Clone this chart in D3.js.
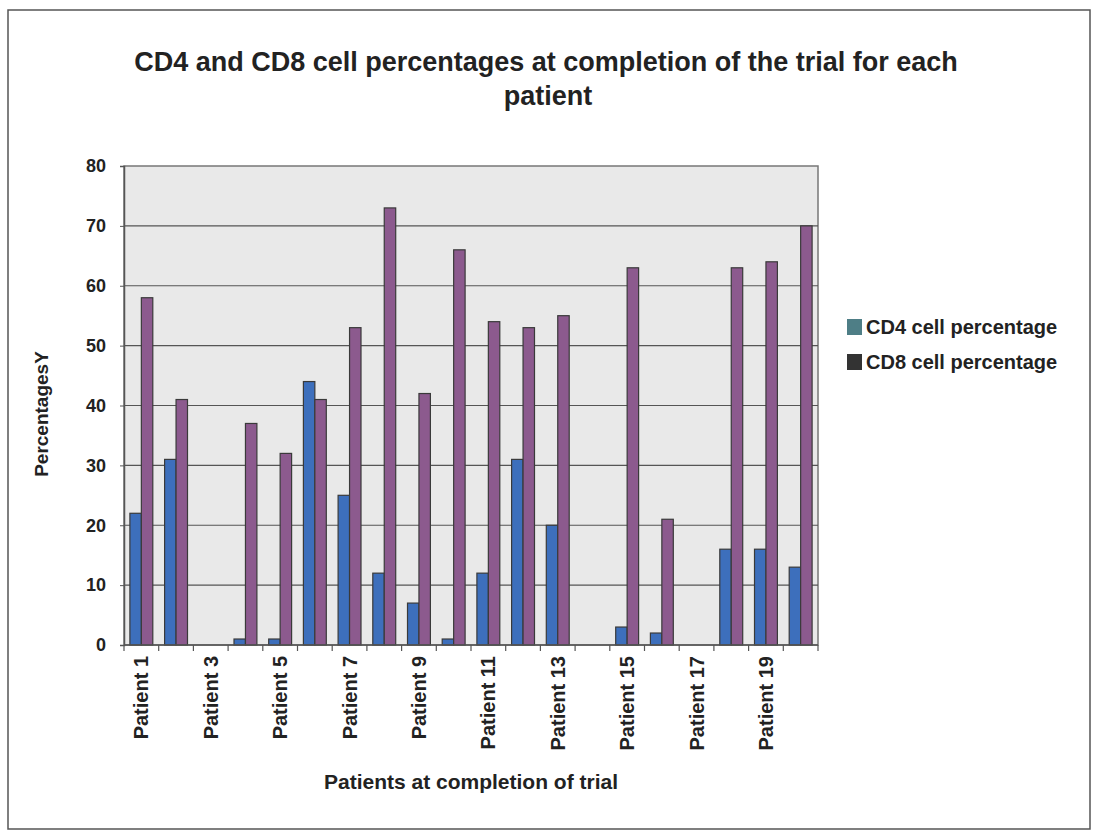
<!DOCTYPE html>
<html>
<head>
<meta charset="utf-8">
<script src="https://cdn.jsdelivr.net/npm/d3@7"></script>
<style>
  body { margin: 0; background: #fff; }
  text { font-family: "Liberation Sans", Arial, sans-serif; fill: #222; }
</style>
</head>
<body>
<div id="chart"></div>
<script>
// data
var patients = d3.range(1, 21).map(i => "Patient " + i);
var cd4 = [22, 31, 0, 1, 1, 44, 25, 12, 7, 1, 12, 31, 20, 0, 3, 2, 0, 16, 16, 13];
var cd8 = [58, 41, 0, 37, 32, 41, 53, 73, 42, 66, 54, 53, 55, 0, 63, 21, 0, 63, 64, 70];
var seriesNames = ["CD4 cell percentage", "CD8 cell percentage"];
var yTicks = [0, 10, 20, 30, 40, 50, 60, 70, 80];

var width = 1096, height = 831;
var plot = { left: 124, right: 818, top: 166, bottom: 645 };

var svg = d3.select("#chart").append("svg")
  .attr("width", width)
  .attr("height", height);

// outer frame
svg.append("rect")
  .attr("x", 8).attr("y", 10)
  .attr("width", 1082).attr("height", 819)
  .attr("fill", "#fff")
  .attr("stroke", "#555")
  .attr("stroke-width", 1.5);

// title
svg.append("text")
  .attr("x", 546).attr("y", 71)
  .attr("text-anchor", "middle")
  .style("font-size", "27px").style("font-weight", "bold")
  .text("CD4 and CD8 cell percentages at completion of the trial for each");
svg.append("text")
  .attr("x", 548).attr("y", 105)
  .attr("text-anchor", "middle")
  .style("font-size", "27px").style("font-weight", "bold")
  .text("patient");

// scales
var x0 = d3.scaleBand()
  .domain(patients)
  .range([plot.left, plot.right])
  .paddingInner(0)
  .paddingOuter(0);

var x1 = d3.scaleBand()
  .domain(seriesNames)
  .range([x0.bandwidth() * 0.17, x0.bandwidth() * 0.83]);

var y = d3.scaleLinear()
  .domain([0, 80])
  .range([plot.bottom, plot.top]);

// plot background
svg.append("rect")
  .attr("x", plot.left).attr("y", plot.top)
  .attr("width", plot.right - plot.left)
  .attr("height", plot.bottom - plot.top)
  .attr("fill", "#e9e9e9")
  .attr("stroke", "#777")
  .attr("stroke-width", 1.5);

// gridlines
svg.append("g")
  .selectAll("line")
  .data(yTicks.filter(d => d > 0 && d < 80))
  .enter().append("line")
  .attr("x1", plot.left).attr("x2", plot.right)
  .attr("y1", d => y(d)).attr("y2", d => y(d))
  .attr("stroke", "#555")
  .attr("stroke-width", 1.2);

// bars
var colors = ["#3d6fbc", "#8c5a8e"];
var groups = svg.append("g")
  .selectAll("g")
  .data(patients)
  .enter().append("g")
  .attr("transform", d => "translate(" + x0(d) + ",0)");

groups.selectAll("rect")
  .data((d, i) => [cd4[i], cd8[i]].map((v, k) => ({ key: seriesNames[k], value: v, k: k })))
  .enter().append("rect")
  .filter(d => d.value > 0)
  .attr("x", d => x1(d.key))
  .attr("y", d => y(d.value))
  .attr("width", x1.bandwidth())
  .attr("height", d => y(0) - y(d.value))
  .attr("fill", d => colors[d.k])
  .attr("stroke", "#3a3a3a")
  .attr("stroke-width", 1.2);

// y axis
var yAxis = svg.append("g")
  .attr("transform", "translate(" + plot.left + ",0)")
  .call(d3.axisLeft(y).tickValues(yTicks).tickSize(4).tickPadding(14));
yAxis.select(".domain").attr("stroke", "#555").attr("stroke-width", 1.5);
yAxis.selectAll(".tick line").attr("stroke", "#555");
yAxis.selectAll("text")
  .style("font-size", "18px").style("font-weight", "bold")
  .style("font-family", "Liberation Sans, Arial, sans-serif")
  .attr("fill", "#222");

// x axis: ticks on category boundaries
var xAxisG = svg.append("g");
xAxisG.append("line")
  .attr("x1", plot.left).attr("x2", plot.right)
  .attr("y1", y(0)).attr("y2", y(0))
  .attr("stroke", "#555").attr("stroke-width", 1.5);
xAxisG.selectAll(".xt")
  .data(patients.concat(["end"]))
  .enter().append("line")
  .attr("class", "xt")
  .attr("x1", (d, i) => plot.left + i * x0.step())
  .attr("x2", (d, i) => plot.left + i * x0.step())
  .attr("y1", y(0)).attr("y2", y(0) + 6)
  .attr("stroke", "#555").attr("stroke-width", 1.2);

// x labels, every other patient
xAxisG.selectAll(".xl")
  .data(patients.filter((d, i) => i % 2 === 0))
  .enter().append("text")
  .attr("class", "xl")
  .attr("transform", d => "translate(" + (x0(d) + x0.bandwidth() / 2 + 7) + "," + (y(0) + 11) + ") rotate(-90)")
  .attr("text-anchor", "end")
  .style("font-size", "20px").style("font-weight", "bold")
  .text(d => d);

// axis titles
svg.append("text")
  .attr("transform", "translate(48," + 414 + ") rotate(-90)")
  .attr("text-anchor", "middle")
  .style("font-size", "19px").style("font-weight", "bold")
  .attr("fill", "#555")
  .text("PercentagesY");

svg.append("text")
  .attr("x", 471).attr("y", 789)
  .attr("text-anchor", "middle")
  .style("font-size", "21px").style("font-weight", "bold")
  .text("Patients at completion of trial");

// legend
var legendColors = ["#4e7e86", "#333333"];
var legend = svg.append("g")
  .selectAll("g")
  .data(seriesNames)
  .enter().append("g")
  .attr("transform", (d, i) => "translate(847," + (319 + i * 35) + ")");
legend.append("rect")
  .attr("width", 15).attr("height", 16)
  .attr("fill", (d, i) => legendColors[i]);
legend.append("text")
  .attr("x", 19).attr("y", 15)
  .style("font-size", "20px").style("font-weight", "bold")
  .text(d => d);
</script>
</body>
</html>
